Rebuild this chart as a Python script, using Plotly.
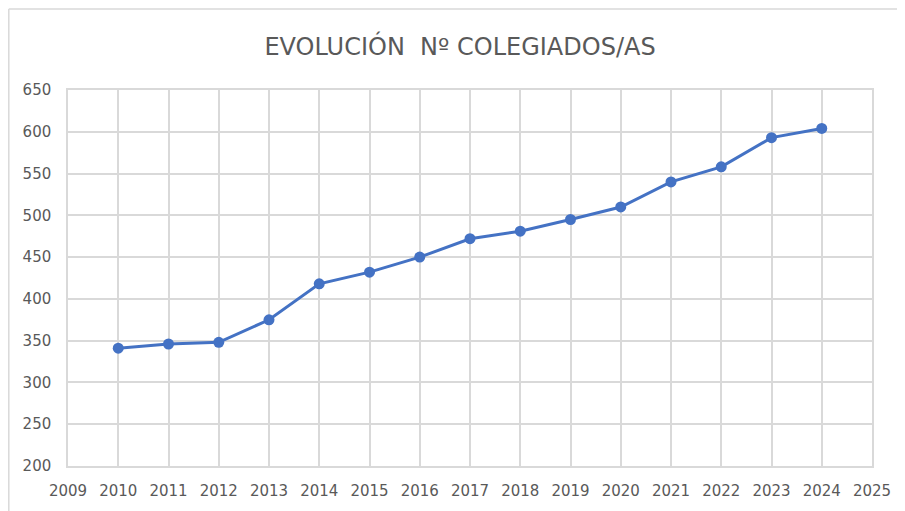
import plotly.graph_objects as go

years = [2010, 2011, 2012, 2013, 2014, 2015, 2016, 2017, 2018, 2019, 2020, 2021, 2022, 2023, 2024]
colegiados = [341, 346, 348, 375, 418, 432, 450, 472, 481, 495, 510, 540, 558, 593, 604]
title_text = "EVOLUCIÓN  Nº COLEGIADOS/AS"

# page has an 8px body margin; figure sized so it fits the 905x511 window
OFF = 8
W, H = 897, 503
ml, mr, mt, mb = 60, 33, 82, 45
pw, ph = W - ml - mr, H - mt - mb

def px(x):  # page x -> paper
    return (x - OFF - ml) / pw

def py(y):  # page y -> paper
    return (H - mb - (y - OFF)) / ph

fig = go.Figure()
fig.add_trace(go.Scatter(
    x=years, y=colegiados, mode="lines+markers",
    line=dict(color="#4472C4", width=3),
    marker=dict(color="#4472C4", size=11),
    showlegend=False, hoverinfo="x+y",
))

fig.update_layout(
    width=W, height=H,
    margin=dict(l=ml, r=mr, t=mt, b=mb),
    paper_bgcolor="white", plot_bgcolor="white",
    font=dict(family="'DejaVu Sans', sans-serif", color="#595959", size=15),
    title=dict(text=title_text, x=(460 - OFF) / W, xanchor="center", y=1 - (47 - OFF) / H,
               yanchor="middle", font=dict(size=24, color="#595959")),
    xaxis=dict(range=[2009, 2025], dtick=1, tick0=2009, showgrid=True, gridcolor="#D9D9D9",
               gridwidth=1.5, zeroline=False, showline=True, linecolor="#D9D9D9", linewidth=1.5,
               mirror=True, ticks="outside", ticklen=10, tickcolor="rgba(0,0,0,0)",
               tickfont=dict(size=15, color="#595959")),
    yaxis=dict(range=[200, 650], dtick=50, tick0=200, showgrid=True, gridcolor="#D9D9D9",
               gridwidth=1.5, zeroline=False, showline=True, linecolor="#D9D9D9", linewidth=1.5,
               mirror=True, ticks="outside", ticklen=12, tickcolor="rgba(0,0,0,0)",
               tickfont=dict(size=15, color="#595959")),
    shapes=[
        dict(type="line", xref="paper", yref="paper", x0=px(8.8), x1=px(905), y0=py(9), y1=py(9),
             line=dict(color="#D9D9D9", width=1.5)),
        dict(type="line", xref="paper", yref="paper", x0=px(8.8), x1=px(8.8), y0=py(9), y1=py(515),
             line=dict(color="#D9D9D9", width=1.5)),
    ],
)

fig.write_html("out.html")
